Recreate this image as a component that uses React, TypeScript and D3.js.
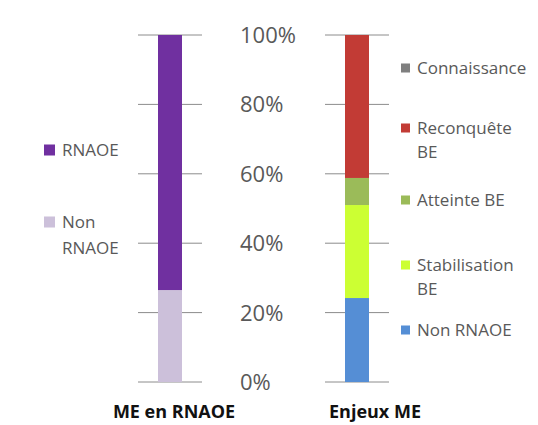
import * as d3 from 'd3';

const ticks = [0, 0.2, 0.4, 0.6, 0.8, 1];
const tickLabels = ['0%', '20%', '40%', '60%', '80%', '100%'];

const leftCategory = 'ME en RNAOE';
const leftSeries = ['Non RNAOE', 'RNAOE'];
const leftValues = [0.265, 0.735];
const leftColors = ['#CCC0DA', '#7030A0'];

const rightCategory = 'Enjeux ME';
const rightSeries = ['Non RNAOE', 'Stabilisation BE', 'Atteinte BE', 'Reconquête BE', 'Connaissance'];
const rightValues = [0.242, 0.268, 0.078, 0.412, 0];
const rightColors = ['#558ED5', '#CCFF33', '#9BBB59', '#C23B35', '#7F7F7F'];

const W = 538;
const H = 425;
const y = d3.scaleLinear().domain([0, 1]).range([382, 35]);

function stack(values: number[]) {
  let acc = 0;
  return values.map(v => {
    const s = { y0: acc, y1: acc + v };
    acc += v;
    return s;
  });
}

function Column(props: { cx: number; values: number[]; colors: string[]; label: string; labelDx: number }) {
  const { cx, values, colors, label, labelDx } = props;
  const segs = stack(values);
  return (
    <g>
      {ticks.map(t => (
        <line key={t} x1={cx - 32} x2={cx + 32} y1={y(t)} y2={y(t)} stroke="#8C8C8C" strokeWidth={1} />
      ))}
      {segs.map((s, i) =>
        values[i] > 0 ? (
          <rect key={i} x={cx - 12} width={24} y={y(s.y1)} height={y(s.y0) - y(s.y1)} fill={colors[i]} />
        ) : null
      )}
      <text x={cx + labelDx} y={418} textAnchor="middle" fontSize={18} fontWeight="bold" fill="#111">
        {label}
      </text>
    </g>
  );
}

function Legend(props: {
  x: number;
  items: { lines: string[]; color: string; y: number }[];
  size: number;
  gap: number;
  lh: number;
}) {
  const { x, items, size, gap, lh } = props;
  return (
    <g>
      {items.map((it, i) => (
        <g key={i}>
          <rect x={x} y={it.y - size / 2} width={size} height={size} fill={it.color} />
          {it.lines.map((l, j) => (
            <text key={j} x={x + size + gap} y={it.y + 6 + j * lh} fontSize={17} fill="#595959">
              {l}
            </text>
          ))}
        </g>
      ))}
    </g>
  );
}

export default function App() {
  const leftLegend = [
    { lines: [leftSeries[1]], color: leftColors[1], y: 150 },
    { lines: ['Non', 'RNAOE'], color: leftColors[0], y: 222 },
  ];
  const rightLegend = [
    { lines: [rightSeries[4]], color: rightColors[4], y: 68 },
    { lines: ['Reconquête', 'BE'], color: rightColors[3], y: 128 },
    { lines: [rightSeries[2]], color: rightColors[2], y: 200 },
    { lines: ['Stabilisation', 'BE'], color: rightColors[1], y: 265 },
    { lines: [rightSeries[0]], color: rightColors[0], y: 330 },
  ];
  return (
    <svg
      width={W}
      height={H}
      style={{ position: 'absolute', left: 0, top: 0, background: '#fff', fontFamily: '"Open Sans", sans-serif' }}
    >
      <Column cx={170} values={leftValues} colors={leftColors} label={leftCategory} labelDx={4} />
      <Column cx={357} values={rightValues} colors={rightColors} label={rightCategory} labelDx={18} />
      {ticks.map((t, i) => (
        <text key={t} x={240} y={y(t) + 8} fontSize={22} fill="#595959">
          {tickLabels[i]}
        </text>
      ))}
      <Legend x={44} size={11} gap={7} lh={26} items={leftLegend} />
      <Legend x={401} size={9} gap={7} lh={24} items={rightLegend} />
    </svg>
  );
}
